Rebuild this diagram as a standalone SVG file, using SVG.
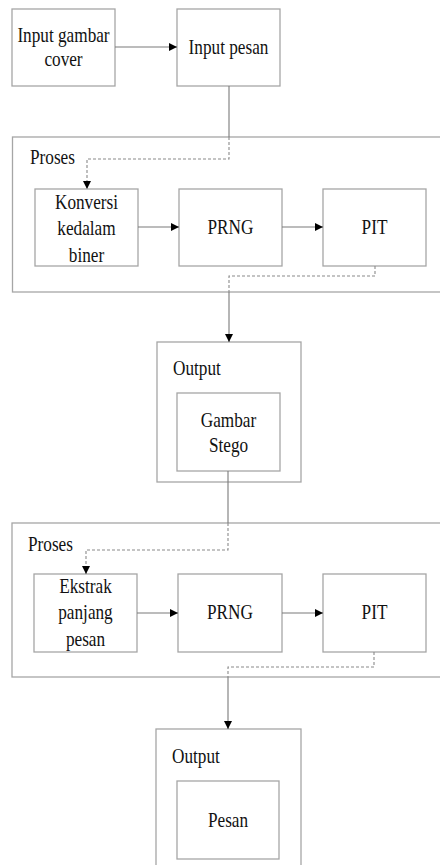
<svg xmlns="http://www.w3.org/2000/svg" width="440" height="865" viewBox="0 0 440 865">
  <style>
    .box { fill: #ffffff; stroke: #a6a6a6; stroke-width: 1.3; }
    .frame { fill: none; stroke: #a6a6a6; stroke-width: 1.3; }
    .lbl { font-family: "Liberation Serif", "Times New Roman", serif; font-size: 21px; fill: #111; }
    .mid { text-anchor: middle; }
    .solid { fill: none; stroke: #7a7a7a; stroke-width: 1.1; }
    .dash { fill: none; stroke: #8a8a8a; stroke-width: 1.1; stroke-dasharray: 3 2; }
  </style>
  <defs>
    <marker id="arrow" viewBox="0 0 10 10" refX="10" refY="5" markerWidth="8" markerHeight="8" markerUnits="userSpaceOnUse" orient="auto">
      <path d="M0,0 L10,5 L0,10 Z" fill="#000"/>
    </marker>
  </defs>
  <rect width="440" height="865" fill="#ffffff"/>

  <!-- container frames -->
  <g id="proses1">
    <rect class="frame" x="12.5" y="137" width="440" height="155"/>
    <text class="lbl" transform="translate(30,164) scale(0.82,1)">Proses</text>
  </g>
  <g id="output1">
    <rect class="frame" x="157" y="342" width="144" height="140"/>
    <text class="lbl" transform="translate(173,375) scale(0.82,1)">Output</text>
  </g>
  <g id="proses2">
    <rect class="frame" x="12" y="523" width="440" height="154"/>
    <text class="lbl" transform="translate(28,551) scale(0.82,1)">Proses</text>
  </g>
  <g id="output2">
    <rect class="frame" x="156" y="729" width="145" height="160"/>
    <text class="lbl" transform="translate(172,763) scale(0.82,1)">Output</text>
  </g>

  <!-- process nodes -->
  <g id="input-gambar">
    <rect class="box" x="12" y="9" width="103" height="77"/>
    <text class="lbl mid" transform="translate(63.5,42) scale(0.82,1)">Input gambar<tspan x="0" dy="24">cover</tspan></text>
  </g>
  <g id="input-pesan">
    <rect class="box" x="177" y="9" width="103" height="77"/>
    <text class="lbl mid" transform="translate(228.5,54) scale(0.82,1)">Input pesan</text>
  </g>
  <g id="konversi">
    <rect class="box" x="35" y="189" width="103" height="77"/>
    <text class="lbl mid" transform="translate(86.5,209) scale(0.82,1)">Konversi<tspan x="0" dy="26.5">kedalam</tspan><tspan x="0" dy="26.5">biner</tspan></text>
  </g>
  <g id="prng1">
    <rect class="box" x="179" y="189" width="103" height="77"/>
    <text class="lbl mid" transform="translate(230.5,234) scale(0.82,1)">PRNG</text>
  </g>
  <g id="pit1">
    <rect class="box" x="323" y="189" width="103" height="77"/>
    <text class="lbl mid" transform="translate(374.5,234) scale(0.82,1)">PIT</text>
  </g>
  <g id="gambar-stego">
    <rect class="box" x="177" y="393" width="103" height="78"/>
    <text class="lbl mid" transform="translate(228.5,427) scale(0.82,1)">Gambar<tspan x="0" dy="25">Stego</tspan></text>
  </g>
  <g id="ekstrak">
    <rect class="box" x="34" y="574" width="103" height="78"/>
    <text class="lbl mid" transform="translate(85.5,593) scale(0.82,1)">Ekstrak<tspan x="0" dy="26.5">panjang</tspan><tspan x="0" dy="26.5">pesan</tspan></text>
  </g>
  <g id="prng2">
    <rect class="box" x="178" y="574" width="104" height="78"/>
    <text class="lbl mid" transform="translate(230,619) scale(0.82,1)">PRNG</text>
  </g>
  <g id="pit2">
    <rect class="box" x="323" y="574" width="103" height="78"/>
    <text class="lbl mid" transform="translate(374.5,619) scale(0.82,1)">PIT</text>
  </g>
  <g id="pesan">
    <rect class="box" x="177" y="781" width="102" height="78"/>
    <text class="lbl mid" transform="translate(228,827) scale(0.82,1)">Pesan</text>
  </g>

  <!-- connectors -->
  <g id="connectors">
    <path class="solid" d="M115,47 H177" marker-end="url(#arrow)"/>
    <path class="solid" d="M229,86 V137"/>
    <path class="dash" d="M229,137 V159 H87 V189" marker-end="url(#arrow)"/>
    <path class="solid" d="M138,227 H179" marker-end="url(#arrow)"/>
    <path class="solid" d="M282,227 H323" marker-end="url(#arrow)"/>
    <path class="dash" d="M375,266 V276 H229 V292"/>
    <path class="solid" d="M229,292 V342" marker-end="url(#arrow)"/>
    <path class="solid" d="M228,471 V523"/>
    <path class="dash" d="M228,523 V550 H86 V574" marker-end="url(#arrow)"/>
    <path class="solid" d="M137,613 H178" marker-end="url(#arrow)"/>
    <path class="solid" d="M282,613 H323" marker-end="url(#arrow)"/>
    <path class="dash" d="M374,652 V667 H228 V677"/>
    <path class="solid" d="M228,677 V729" marker-end="url(#arrow)"/>
  </g>
</svg>
